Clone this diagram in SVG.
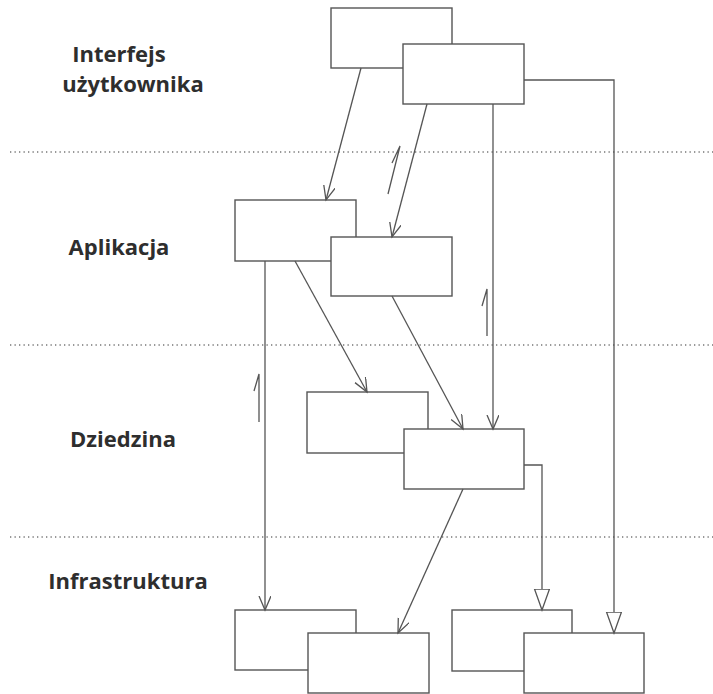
<svg xmlns="http://www.w3.org/2000/svg" width="713" height="694" viewBox="0 0 713 694">
<defs>
<style>
.box{fill:#fff;stroke:#555;stroke-width:1.4}
.ln{fill:none;stroke:#555;stroke-width:1.3}
.dot{fill:none;stroke:#777;stroke-width:1.3;stroke-dasharray:1.3 3.2}
.lbl{font-family:"Open Sans","Noto Sans","DejaVu Sans",sans-serif;font-weight:700;font-size:22px;fill:#2e2e2e;text-anchor:middle}
</style>
<marker id="v" markerUnits="userSpaceOnUse" markerWidth="16" markerHeight="14" refX="14" refY="6" orient="auto">
<path d="M0,0 L14,6 L0,12" fill="none" stroke="#555" stroke-width="1.3"/>
</marker>
<marker id="tri" markerUnits="userSpaceOnUse" markerWidth="24" markerHeight="18" refX="21" refY="8" orient="auto">
<path d="M0,0.5 L21,8 L0,15.5 Z" fill="#fff" stroke="#555" stroke-width="1.3"/>
</marker>
</defs>
<rect width="713" height="694" fill="#fff"/>
<g id="layers">
<line class="dot" x1="10" y1="152" x2="713" y2="152"/>
<line class="dot" x1="10" y1="345" x2="713" y2="345"/>
<line class="dot" x1="10" y1="537" x2="713" y2="537"/>
<text class="lbl" x="119" y="62">Interfejs</text>
<text class="lbl" x="133" y="92">użytkownika</text>
<text class="lbl" x="119" y="255">Aplikacja</text>
<text class="lbl" x="123" y="447">Dziedzina</text>
<text class="lbl" x="128" y="589">Infrastruktura</text>
</g>
<g id="ui-a"><rect class="box" x="331" y="8" width="121" height="60"/></g>
<g id="ui-b"><rect class="box" x="403" y="44" width="121" height="60"/></g>
<g id="app-c"><rect class="box" x="235" y="200" width="121" height="61"/></g>
<g id="app-d"><rect class="box" x="331" y="237" width="121" height="59"/></g>
<g id="dom-e"><rect class="box" x="307" y="392" width="121" height="61"/></g>
<g id="dom-f"><rect class="box" x="404" y="429" width="120" height="60"/></g>
<g id="inf-i"><rect class="box" x="235" y="610" width="121" height="60"/></g>
<g id="inf-j"><rect class="box" x="308" y="633" width="121" height="60"/></g>
<g id="inf-g"><rect class="box" x="452" y="610" width="120" height="61"/></g>
<g id="inf-h"><rect class="box" x="524" y="633" width="120" height="60"/></g>
<g id="connectors">
<line class="ln" x1="361" y1="68" x2="326" y2="200" marker-end="url(#v)"/>
<line class="ln" x1="427" y1="104" x2="392" y2="237" marker-end="url(#v)"/>
<line class="ln" x1="493" y1="104" x2="493" y2="429" marker-end="url(#v)"/>
<polyline class="ln" points="524,80 614,80 614,633" marker-end="url(#tri)"/>
<line class="ln" x1="295" y1="261" x2="367" y2="392" marker-end="url(#v)"/>
<line class="ln" x1="265" y1="261" x2="265" y2="610" marker-end="url(#v)"/>
<line class="ln" x1="392" y1="296" x2="463" y2="429" marker-end="url(#v)"/>
<polyline class="ln" points="524,465 542,465 542,610" marker-end="url(#tri)"/>
<line class="ln" x1="463" y1="489" x2="398" y2="633" marker-end="url(#v)"/>
<path class="ln" d="M388,194 L400,146 L392,163"/>
<path class="ln" d="M487,336 L487,289 L482,306"/>
<path class="ln" d="M259,422 L259,374 L254,391"/>
</g>
</svg>
